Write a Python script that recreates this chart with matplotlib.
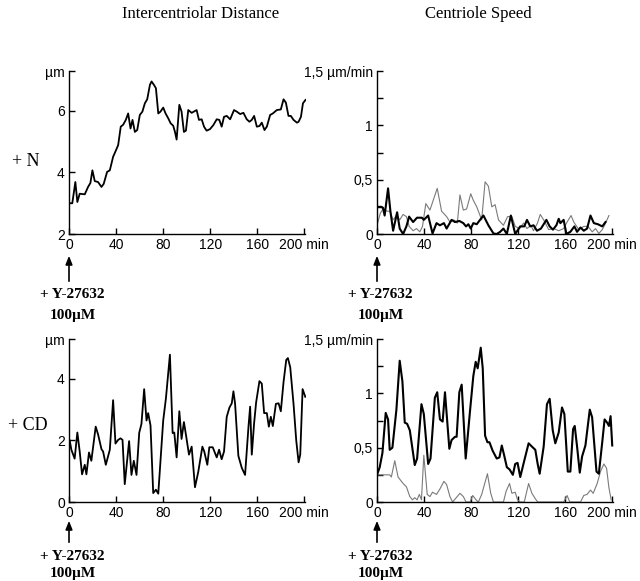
import matplotlib.pyplot as plt
import matplotlib.transforms as mtransforms

# ---- data (time in min) ----
n_dist_t = [0.5, 2.8, 5.4, 7.1, 9.1, 13.4, 16.2, 18.2, 19.9, 21.9, 24.7, 27.6, 29.5, 32.4,
            34.7, 37.5, 39.8, 41.8, 44.0, 46.0, 48.3, 50.3, 52.3, 54.0, 56.0, 58.0, 60.2,
            62.4, 64.5, 66.5, 68.8, 70.2, 72.2, 73.9, 75.9, 77.8, 80.1, 82.1, 84.4, 86.4,
            88.6, 90.1, 91.5, 93.8, 95.7, 97.7, 99.4, 101.4, 104.3, 108.5, 110.5, 112.8,
            114.8, 117.0, 119.9, 122.7, 125.6, 127.8, 129.8, 131.8, 134.1, 137.0, 140.3,
            142.6, 145.5, 148.3, 151.1, 153.4, 155.4, 157.4, 159.7, 161.9, 163.9, 166.2,
            168.2, 171.0, 173.3, 176.7, 180.1, 182.4, 184.4, 186.6, 188.6, 190.9, 193.8,
            195.2, 197.2, 198.9, 201.1]
n_dist_v = [3.0, 3.0, 3.69, 3.04, 3.31, 3.29, 3.53, 3.66, 4.07, 3.72, 3.69, 3.53, 3.63, 4.02,
            4.07, 4.51, 4.71, 4.89, 5.49, 5.55, 5.71, 5.92, 5.43, 5.71, 5.32, 5.38, 5.87,
            5.98, 6.25, 6.38, 6.85, 6.96, 6.85, 6.74, 5.92, 5.98, 6.11, 5.92, 5.76, 5.60,
            5.52, 5.32, 5.07, 6.20, 5.98, 5.32, 5.36, 6.03, 5.94, 6.03, 5.71, 5.73, 5.49,
            5.36, 5.41, 5.54, 5.73, 5.71, 5.49, 5.81, 5.84, 5.73, 6.03, 5.98, 5.90, 5.94,
            5.73, 5.65, 5.71, 5.84, 5.49, 5.51, 5.62, 5.38, 5.49, 5.87, 5.92, 6.03, 6.05,
            6.38, 6.27, 5.84, 5.84, 5.71, 5.62, 5.65, 5.81, 6.25, 6.36]

n_speed_t = [0, 3.7, 5.1, 6.5, 9.4, 11.4, 13.7, 17.1, 19.3, 22.2, 25.0, 27.3, 30.7, 34.0,
             38.1, 39.8, 43.5, 47.2, 50.6, 53.5, 56.9, 59.2, 63.4, 66.3, 70.0, 73.4, 75.7,
             77.7, 79.7, 81.9, 84.8, 87.6, 90.5, 94.7, 99.0, 101.8, 104.7, 107.5, 110.4,
             113.8, 117.5, 121.8, 125.2, 127.5, 130.3, 133.1, 136.0, 139.4, 144.0, 146.8,
             149.6, 152.5, 154.5, 155.9, 158.7, 161.0, 164.4, 167.8, 170.1, 173.0, 175.8,
             178.6, 181.5, 184.4, 187.8, 191.5, 194.3]
n_speed_v = [0.25, 0.25, 0.24, 0.17, 0.42, 0.21, 0.03, 0.20, 0.05, 0.0, 0.07, 0.16, 0.11,
             0.15, 0.15, 0.13, 0.17, 0.005, 0.10, 0.08, 0.10, 0.05, 0.13, 0.11, 0.12, 0.10,
             0.07, 0.09, 0.05, 0.10, 0.09, 0.13, 0.17, 0.08, 0.005, 0.0, 0.02, 0.05, 0.0,
             0.17, 0.0, 0.07, 0.07, 0.13, 0.07, 0.08, 0.03, 0.05, 0.13, 0.07, 0.04, 0.08,
             0.14, 0.10, 0.13, 0.0, 0.02, 0.07, 0.02, 0.06, 0.03, 0.05, 0.17, 0.10, 0.09,
             0.07, 0.11]

n_speed2_t = [0, 2.8, 5.1, 8.5, 10.8, 13.7, 16.5, 19.3, 22.2, 25.0, 27.3, 30.7, 33.6, 36.4,
              38.7, 41.5, 45.0, 51.2, 54.9, 59.2, 62.0, 65.4, 68.3, 70.5, 73.4, 76.2, 79.7,
              81.9, 84.8, 89.0, 91.9, 94.7, 97.6, 100.4, 103.3, 107.5, 111.0, 114.7, 117.5,
              121.2, 124.6, 127.5, 130.9, 133.0, 136.4, 138.8, 141.7, 146.0, 150.3, 154.5,
              158.7, 161.6, 165.0, 167.3, 171.6, 175.8, 179.3, 183.0, 185.8, 188.6, 191.5,
              193.5, 197.2]
n_speed2_v = [0.08, 0.19, 0.23, 0.21, 0.21, 0.13, 0.17, 0.13, 0.18, 0.16, 0.07, 0.03, 0.05,
              0.02, 0.07, 0.28, 0.22, 0.42, 0.21, 0.16, 0.11, 0.13, 0.10, 0.36, 0.22, 0.23,
              0.37, 0.31, 0.25, 0.13, 0.48, 0.44, 0.25, 0.27, 0.13, 0.08, 0.16, 0.16, 0.07,
              0.05, 0.10, 0.05, 0.08, 0.03, 0.10, 0.18, 0.13, 0.04, 0.05, 0.03, 0.05, 0.11,
              0.17, 0.11, 0.04, 0.07, 0.07, 0.02, 0.05, 0.005, 0.04, 0.08, 0.17]

cd_dist_t = [0.6, 2.0, 4.8, 7.1, 9.1, 11.1, 13.4, 14.8, 17.0, 19.0, 22.7, 24.7, 27.6, 29.0,
             31.3, 34.7, 37.5, 39.5, 41.8, 43.8, 45.5, 47.4, 51.1, 53.1, 55.1, 57.4, 59.7,
             61.6, 63.9, 65.9, 67.3, 69.3, 71.6, 73.9, 75.9, 80.1, 82.4, 85.8, 88.1, 89.5,
             91.5, 93.8, 95.7, 97.7, 99.7, 102.0, 104.3, 107.1, 109.9, 113.4, 115.0, 117.6,
             119.3, 122.2, 125.6, 127.6, 129.8, 131.8, 134.1, 136.4, 138.4, 139.8, 141.2,
             144.0, 146.9, 149.7, 152.6, 154.0, 155.4, 157.4, 159.1, 161.9, 163.9, 165.9,
             168.2, 169.9, 171.6, 173.3, 175.9, 178.2, 180.1, 182.4, 184.7, 186.1, 188.1,
             190.9, 193.2, 195.2, 196.6, 198.6, 200.9]
cd_dist_v = [2.0, 1.70, 1.41, 2.26, 1.64, 0.90, 1.21, 0.90, 1.61, 1.34, 2.45, 2.20, 1.72,
             1.64, 1.21, 1.70, 3.31, 1.90, 2.02, 2.07, 2.02, 0.58, 1.98, 0.88, 1.34, 0.88,
             2.25, 2.54, 3.67, 2.65, 2.89, 2.49, 0.29, 0.40, 0.27, 2.65, 3.37, 4.79, 2.24,
             2.26, 1.45, 2.95, 2.05, 2.60, 2.12, 1.54, 1.80, 0.48, 0.98, 1.80, 1.64, 1.21,
             1.78, 1.78, 1.45, 1.70, 1.39, 1.64, 2.77, 3.07, 3.21, 3.60, 3.20, 1.50, 1.11,
             0.88, 2.45, 3.10, 1.54, 2.57, 3.24, 3.93, 3.85, 2.89, 2.89, 2.45, 2.77, 2.47,
             3.19, 3.21, 2.95, 3.90, 4.62, 4.68, 4.38, 3.19, 2.0, 1.29, 1.54, 3.67, 3.42]

cd_speed_t = [0, 2.3, 4.6, 7.4, 9.4, 10.8, 13.1, 16.5, 19.3, 21.6, 23.6, 25.6, 27.9, 32.1,
              34.1, 37.8, 39.8, 43.5, 45.5, 49.2, 51.2, 53.5, 55.8, 57.8, 61.5, 63.4, 66.3,
              67.7, 70.0, 72.0, 75.4, 79.1, 81.9, 83.9, 85.6, 88.2, 89.9, 91.9, 93.9, 95.6,
              98.4, 101.8, 104.1, 106.1, 108.1, 110.4, 112.7, 115.5, 117.5, 119.5, 121.8,
              125.2, 128.9, 131.7, 134.6, 136.6, 138.3, 141.7, 144.5, 146.8, 149.4, 151.6,
              154.5, 157.3, 159.3, 162.2, 164.4, 166.7, 168.1, 170.1, 172.4, 174.4, 177.2,
              180.9, 182.9, 186.6, 188.6, 191.5, 193.5, 195.7, 197.2, 198.6, 200.0]
cd_speed_v = [0.25, 0.32, 0.45, 0.82, 0.76, 0.48, 0.50, 0.85, 1.30, 1.11, 0.73, 0.72, 0.66,
              0.34, 0.40, 0.90, 0.81, 0.35, 0.40, 0.96, 1.01, 0.76, 0.74, 1.01, 0.49, 0.57,
              0.60, 0.60, 1.01, 1.08, 0.40, 0.84, 1.16, 1.29, 1.23, 1.42, 1.23, 0.61, 0.55,
              0.55, 0.47, 0.40, 0.41, 0.52, 0.43, 0.32, 0.30, 0.25, 0.35, 0.36, 0.23, 0.38,
              0.54, 0.51, 0.48, 0.35, 0.26, 0.51, 0.90, 0.95, 0.66, 0.54, 0.64, 0.87, 0.81,
              0.28, 0.28, 0.67, 0.70, 0.51, 0.27, 0.42, 0.52, 0.85, 0.78, 0.28, 0.26, 0.55,
              0.76, 0.73, 0.70, 0.79, 0.52]

cd_speed2_t = [0, 10.8, 12.2, 15.1, 17.9, 22.2, 25.0, 27.9, 30.2, 32.1, 34.1, 36.0, 37.8,
               39.8, 42.7, 45.0, 47.2, 50.6, 53.5, 56.9, 59.2, 62.0, 64.3, 67.4, 70.5, 73.4,
               75.7, 79.1, 81.4, 84.2, 86.2, 89.0, 93.9, 96.7, 99.0, 107.5, 109.8, 112.7,
               114.7, 117.5, 119.5, 121.8, 125.2, 128.9, 131.7, 134.6, 136.6, 158.7, 161.6,
               163.9, 173.0, 175.8, 178.6, 181.5, 183.8, 187.2, 190.0, 192.9, 195.2, 197.2,
               199.1]
cd_speed2_v = [0.25, 0.25, 0.23, 0.38, 0.23, 0.17, 0.14, 0.05, 0.02, 0.04, 0.02, 0.07, 0.02,
               0.43, 0.07, 0.05, 0.09, 0.07, 0.12, 0.19, 0.16, 0.05, 0.0, 0.04, 0.08, 0.05,
               0.0, 0.0, 0.06, 0.02, 0.0, 0.07, 0.26, 0.08, 0.0, 0.0, 0.10, 0.17, 0.08, 0.09,
               0.02, 0.0, 0.0, 0.17, 0.08, 0.03, 0.0, 0.0, 0.06, 0.0, 0.0, 0.06, 0.07, 0.11,
               0.08, 0.17, 0.28, 0.35, 0.31, 0.13, 0.02]

x_ticks = [0, 40, 80, 120, 160, 200]
x_labels = ["0", "40", "80", "120", "160", "200 min"]

SANS = "Liberation Sans"
SERIF = "Liberation Serif"
GREY = "#7a7a7a"

fig = plt.figure(figsize=(6.4, 5.81), dpi=100)


def px_axes(left, top, right, bottom):
    # axes box given in figure pixels (640 x 581)
    return fig.add_axes([left / 640, 1 - bottom / 581, (right - left) / 640, (bottom - top) / 581])


def style(ax, ylim, yticks, ylabels):
    ax.set_xlim(0, 201.5)
    ax.set_ylim(*ylim)
    for s in ("top", "right"):
        ax.spines[s].set_visible(False)
    for s in ("left", "bottom"):
        ax.spines[s].set_linewidth(1.0)
    ax.spines["bottom"].set_bounds(0, 201)
    ax.set_xticks(x_ticks)
    ax.set_xticklabels(x_labels)
    ax.set_yticks(yticks)
    ax.set_yticklabels(ylabels)
    ax.tick_params(direction="in", length=4, width=1.0, labelsize=10, pad=3)
    for lab in ax.get_xticklabels() + ax.get_yticklabels():
        lab.set_family(SANS)


ax1 = px_axes(69, 71, 306, 234)
ax1.plot(n_dist_t, n_dist_v, color="black", lw=1.3)
style(ax1, (2, 7.3), [2, 4, 6, 7.3], ["2", "4", "6", "µm"])

ax2 = px_axes(377, 71, 614, 234)
ax2.plot(n_speed2_t, n_speed2_v, color=GREY, lw=0.8)
ax2.plot(n_speed_t, n_speed_v, color="black", lw=1.5)
sp_ticks = [0, 0.25, 0.5, 0.75, 1.0, 1.25, 1.5]
sp_labels = ["0", "", "0,5", "", "1", "", "1,5 µm/min"]
style(ax2, (0, 1.5), sp_ticks, sp_labels)

ax3 = px_axes(69, 339, 306, 502)
ax3.plot(cd_dist_t, cd_dist_v, color="black", lw=1.3)
style(ax3, (0, 5.3), [0, 2, 4, 5.3], ["0", "2", "4", "µm"])

ax4 = px_axes(377, 339, 614, 502)
ax4.plot(cd_speed2_t, cd_speed2_v, color=GREY, lw=0.8)
ax4.plot(cd_speed_t, cd_speed_v, color="black", lw=1.5)
style(ax4, (0, 1.5), sp_ticks, sp_labels)

# arrows + drug annotation under each time origin (offsets in pixels below the x axis)
for ax, y_axis, tip, base, t1, t2 in ((ax1, 234, 19, 50, 61, 81), (ax2, 234, 19, 50, 61, 81),
                                      (ax3, 502, 16, 43, 55, 71), (ax4, 502, 16, 43, 55, 71)):
    tr = mtransforms.blended_transform_factory(ax.transData, fig.transFigure)
    ax.annotate("", xy=(0, 1 - (y_axis + tip) / 581), xycoords=tr,
                xytext=(0, 1 - (y_axis + base) / 581), textcoords=tr,
                arrowprops=dict(arrowstyle="-|>,head_length=0.5,head_width=0.2",
                                color="black", lw=1.2),
                annotation_clip=False)
    ax.text(3, 1 - (y_axis + t1) / 581, "+ Y-27632", transform=tr, ha="center",
            va="center", fontsize=11, family=SERIF, weight="bold")
    ax.text(3, 1 - (y_axis + t2) / 581, "100µM", transform=tr, ha="center",
            va="center", fontsize=11, family=SERIF, weight="bold")

fig.text(201 / 640, 1 - 14 / 581, "Intercentriolar Distance", ha="center", va="center",
         fontsize=12, family=SERIF)
fig.text(478 / 640, 1 - 14 / 581, "Centriole Speed", ha="center", va="center",
         fontsize=12, family=SERIF)
fig.text(26 / 640, 1 - 162 / 581, "+ N", ha="center", va="center", fontsize=13, family=SERIF)
fig.text(28 / 640, 1 - 425 / 581, "+ CD", ha="center", va="center", fontsize=13, family=SERIF)

fig.savefig("out.png", dpi=100)
